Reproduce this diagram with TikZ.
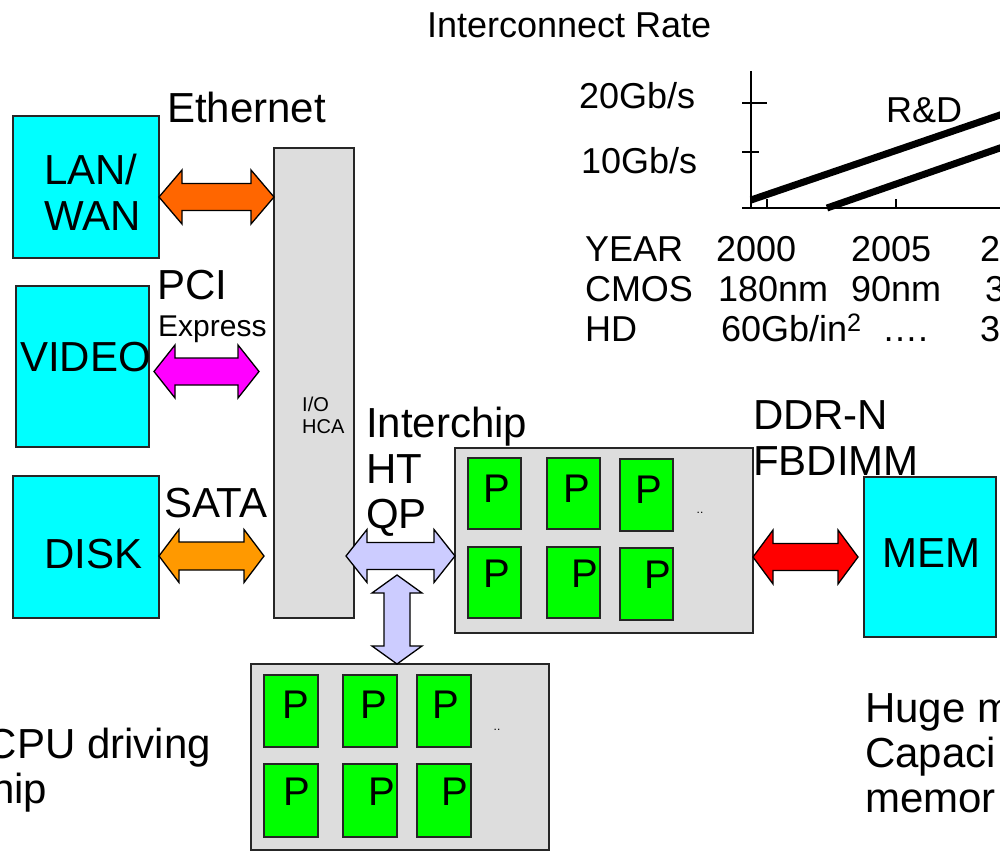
\documentclass[tikz,border=0pt]{standalone}
\usepackage{fontspec}
\setmainfont{Liberation Sans}
\usetikzlibrary{calc}

\definecolor{boxcyan}{HTML}{00FFFF}
\definecolor{chipgray}{HTML}{DDDDDD}
\definecolor{coregreen}{HTML}{00FF00}
\definecolor{ethorange}{HTML}{FF6600}
\definecolor{pcimagenta}{HTML}{FF00FF}
\definecolor{sataorange}{HTML}{FF9900}
\definecolor{linklavender}{HTML}{CCCCFF}
\definecolor{memred}{HTML}{FF0000}

\newcommand\fs[1]{\fontsize{#1}{#1}\selectfont}

% fat double arrow, horizontal: style, left tip, right tip, head length, head half-height, shaft half-height
\newcommand\fatarrowh[6]{%
  \draw[#1] (#2) -- ++(#4,-#5) -- ++(0,#5-#6) -- ($(#3)+(-#4,-#6)$) -- ++(0,#6-#5)
    -- (#3) -- ++(-#4,#5) -- ++(0,#6-#5) -- ($(#2)+(#4,#6)$) -- ++(0,#5-#6) -- cycle;}
% fat double arrow, vertical: style, top tip, bottom tip, head length, head half-width, shaft half-width
\newcommand\fatarrowv[6]{%
  \draw[#1] (#2) -- ++(-#5,#4) -- ++(#5-#6,0) -- ($(#3)+(-#6,-#4)$) -- ++(#6-#5,0)
    -- (#3) -- ++(#5,-#4) -- ++(#6-#5,0) -- ($(#2)+(#6,#4)$) -- ++(#5-#6,0) -- cycle;}

\tikzset{
  blk/.style={draw=black!85, line width=2pt, inner sep=0pt, outer sep=0pt, anchor=north west},
  unit/.style={blk, fill=boxcyan},
  chip/.style={blk, fill=chipgray},
  core/.style={blk, fill=coregreen, minimum width=53pt, minimum height=71pt},
  lcore/.style={blk, fill=coregreen, minimum width=54pt, minimum height=72pt},
  lbl/.style={inner sep=0pt, outer sep=0pt, anchor=base west, font=\fs{42}},
  ptxt/.style={inner sep=0pt, outer sep=0pt, anchor=base, font=\fs{40}},
  chartlbl/.style={inner sep=0pt, outer sep=0pt, anchor=base west, font=\fs{36}},
  fat/.style={draw=black, line width=1.3pt, line join=miter},
  axis/.style={line width=1.5pt, black},
  trend/.style={line width=7pt, black},
}

\begin{document}
\begin{tikzpicture}[x=1pt, y=-1pt]
\useasboundingbox (0,0) rectangle (1000,856);

% ---------- I/O side ----------
\node[unit, minimum width=146pt, minimum height=142pt] (lan) at (13,116) {};
\node[unit, minimum width=133pt, minimum height=161pt] (video) at (16,286) {};
\node[unit, minimum width=146pt, minimum height=142pt] (disk) at (13,476) {};
\node[chip, minimum width=80pt, minimum height=470pt] (hca) at (274,148) {};

% multi-line labels are placed by the baseline of their last line
\node[lbl, align=left] (lantxt) at (44,230) {LAN/\\[4pt]WAN};
\node[lbl] (videotxt) at (20,371) {VIDEO};
\node[lbl] (disktxt) at (44,568) {DISK};
\node[inner sep=0pt, anchor=base west, font=\fs{20}, align=left] (hcatxt) at (302,433) {I/O\\[2pt]HCA};

\node[lbl] (ethtxt) at (167,122) {Ethernet};
\node[lbl] (pcitxt) at (157,299) {PCI};
\node[inner sep=0pt, anchor=base west, font=\fs{30}] (exptxt) at (158,336) {Express};
\node[lbl] (satatxt) at (164,517) {SATA};

% ---------- processors and memory ----------
\node[chip, minimum width=298pt, minimum height=185pt] (cpuA) at (455,448) {};
\node[chip, minimum width=298pt, minimum height=186pt] (cpuB) at (251,664) {};
\node[unit, minimum width=132pt, minimum height=160pt] (mem) at (864,477) {};
\node[lbl] (memtxt) at (882,567) {MEM};

\node[lbl, align=left] (ictxt) at (366,528) {Interchip\\[4pt]HT\\[3pt]QP};
\node[lbl, align=left] (ddrtxt) at (753,475) {DDR-N\\[4pt]FBDIMM};

% cores, upper chip
\node[core] (a1) at (468,458) {};
\node[core] (a2) at (547,458) {};
\node[core, minimum height=72pt] (a3) at (620,459) {};
\node[core] (a4) at (468,547) {};
\node[core] (a5) at (547,547) {};
\node[core, minimum height=72pt] (a6) at (620,548) {};
\node[ptxt] (pa1) at (497,502) {P};
\node[ptxt] (pa2) at (577,502) {P};
\node[ptxt] (pa3) at (649,503) {P};
\node[ptxt] (pa4) at (497,587) {P};
\node[ptxt] (pa5) at (585,587) {P};
\node[ptxt] (pa6) at (658,588) {P};
\node[inner sep=0pt, font=\fs{12}] (dotsA) at (700,513) {..};

% cores, lower chip
\node[lcore] (b1) at (264,675) {};
\node[lcore] (b2) at (343,675) {};
\node[lcore] (b3) at (417,675) {};
\node[lcore, minimum height=73pt] (b4) at (264,764) {};
\node[lcore, minimum height=73pt] (b5) at (343,764) {};
\node[lcore, minimum height=73pt] (b6) at (417,764) {};
\node[ptxt] (pb1) at (296,718) {P};
\node[ptxt] (pb2) at (374,718) {P};
\node[ptxt] (pb3) at (446,718) {P};
\node[ptxt] (pb4) at (297,805) {P};
\node[ptxt] (pb5) at (382,805) {P};
\node[ptxt] (pb6) at (455,805) {P};
\node[inner sep=0pt, font=\fs{12}] (dotsB) at (497,730) {..};

% ---------- fat link arrows ----------
\coordinate (ethL) at (lan.east |- 0,197);
\coordinate (ethR) at (hca.west |- 0,197);
\fatarrowh{fat, fill=ethorange}{ethL}{ethR}{23}{27}{13.5}

\coordinate (pciL) at (154,371.5);
\coordinate (pciR) at (259,371.5);
\fatarrowh{fat, fill=pcimagenta}{pciL}{pciR}{21}{26.5}{13.5}

\coordinate (sataL) at (disk.east |- 0,556);
\coordinate (sataR) at (264,556);
\fatarrowh{fat, fill=sataorange}{sataL}{sataR}{20}{26.5}{14}

\coordinate (icL) at (346,556);
\coordinate (icR) at (cpuA.west |- 0,556);
\fatarrowh{fat, fill=linklavender}{icL}{icR}{21}{26.5}{13.5}

\coordinate (vT) at (397,575);
\coordinate (vB) at (cpuB.north -| 397,0);
\fatarrowv{fat, fill=linklavender}{vT}{vB}{18}{25}{13}

\coordinate (memL) at (cpuA.east |- 0,557);
\coordinate (memR) at (858,557);
\fatarrowh{fat, fill=memred}{memL}{memR}{20}{27}{13.5}

% ---------- interconnect rate chart ----------
\node[chartlbl] (title) at (427,38) {Interconnect Rate};
\coordinate (org) at (751,208);
\draw[axis] (org |- 0,71) -- (org);
\draw[axis] (742,208) -- (1010,208);
\draw[axis] (742,103) -- (767,103);
\draw[axis] (742,152) -- (759,152);
\draw[axis] (767,199) -- (767,208);
\draw[axis] (896,199) -- (896,208);
\draw[trend] (751,200) -- (1010,111.6);
\draw[trend] (827,208) -- (1010,144.5);

\node[chartlbl] (r20) at (579,109) {20Gb/s};
\node[chartlbl] (r10) at (581,173) {10Gb/s};
\node[chartlbl] (rd) at (886,122) {R\&D};

\node[chartlbl] (year) at (585,261) {YEAR};
\node[chartlbl] (y00) at (716,261) {2000};
\node[chartlbl] (y05) at (851,261) {2005};
\node[chartlbl] (y10) at (980,261) {2};
\node[chartlbl] (cmos) at (585,301) {CMOS};
\node[chartlbl] (c00) at (718,301) {180nm};
\node[chartlbl] (c05) at (851,301) {90nm};
\node[chartlbl] (c10) at (985,301) {3};
\node[chartlbl] (hd) at (585,341) {HD};
\node[chartlbl] (h00) at (721,341) {60Gb/in\textsuperscript{2}};
\node[chartlbl] (h05) at (882,341) {….};
\node[chartlbl] (h10) at (980,341) {3};

% ---------- side notes ----------
\node[lbl] (cpunote) at (-13,758) {CPU driving};
\node[lbl] (chipnote) at (-9,803) {hip};
\node[lbl, align=left] (memnote) at (865,812) {Huge m\\[3pt]Capaci\\[3pt]memor};
\end{tikzpicture}
\end{document}
